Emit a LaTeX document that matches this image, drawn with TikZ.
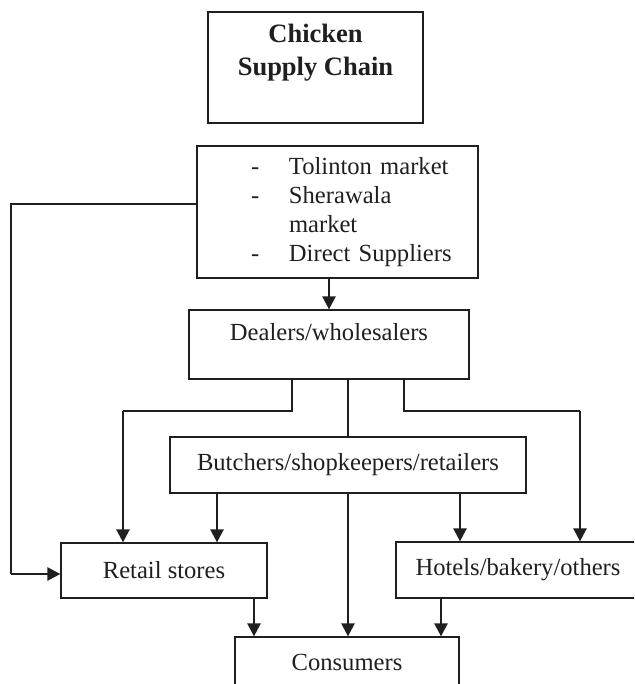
\documentclass[tikz,border=0pt]{standalone}
\usepackage{fontspec}
\setmainfont{Liberation Serif}
\usepackage{tikz}
\usetikzlibrary{calc}
\usetikzlibrary{arrows.meta}
\definecolor{ink}{gray}{0.12}

\begin{document}
\begin{tikzpicture}[x=1pt,y=-1pt,
        box/.style={draw=ink, line width=1.2pt, inner sep=0pt, text=ink},
        link/.style={draw=ink, line width=1.2pt},
        flow/.style={draw=ink, line width=2.3pt, -{Triangle[width=13pt,length=13pt]}},
        font=\fontsize{24.6}{29}\selectfont]
            \clip (0,0) rectangle (634,684);
            % boxes
            \node[box, minimum width=215pt, minimum height=111pt, align=center,
                  font=\bfseries\fontsize{26.5}{33}\selectfont, text depth=36pt] (title) at (315.5,67.5) {Chicken\\Supply Chain};
            \node[box, minimum width=281pt, minimum height=132pt, text width=281pt, align=left] (sources) at (337.5,212) {%
                \begin{tabular}{@{\hspace{54pt}}p{38pt}@{}l@{}}
                    - & Tolinton market\\
                    - & Sherawala\\
                      & market\\
                    - & Direct Suppliers
                \end{tabular}};
            \node[box, minimum width=280pt, minimum height=69pt, text depth=25pt] (dealers) at (329,344.5) {Dealers/wholesalers};
            \node[box, minimum width=356pt, minimum height=56pt] (butchers) at (348,465) {Butchers/shopkeepers/retailers};
            \node[box, minimum width=206pt, minimum height=55pt] (retail) at (164,570.5) {Retail stores};
            \node[box, minimum width=244pt, minimum height=56pt] (hotels) at (518,570) {Hotels/bakery/others};
            \node[box, minimum width=224pt, minimum height=50pt] (consumers) at (347,662) {Consumers};
            % bends and drop points
            \coordinate (lt) at (11,204);
            \coordinate (lb) at (11,574);
            \coordinate (dl) at (292,411);
            \coordinate (dr) at (404,411);
            \coordinate (rl) at (123,411);
            \coordinate (rr) at (580,411);
            \coordinate (b1) at (217,0);
            \coordinate (b3) at (460,0);
            \coordinate (c1) at (254,0);
            \coordinate (c3) at (441,0);
            % connectors
            \draw[flow] (sources.south -| dealers.north) -- (dealers.north);
            \draw[link] (sources.west |- lt) -- (lt) -- (lb);
            \draw[flow] (lb) -- (retail.west |- lb);
            \draw[link] (dealers.south -| dl) -- (dl) -- (rl);
            \draw[flow] (rl) -- (retail.north -| rl);
            \draw[link] (dealers.south -| dr) -- (dr) -- (rr);
            \draw[flow] (rr) -- (hotels.north -| rr);
            \draw[link] (dealers.south -| butchers.north) -- (butchers.north);
            \foreach \c/\t in {b1/retail,b3/hotels} {
                \draw[flow] (butchers.south -| \c) -- (\t.north -| \c);
            }
            \draw[flow] (butchers.south) -- (consumers.north -| butchers.south);
            \foreach \s/\c in {retail/c1,hotels/c3} {
                \draw[flow] (\s.south -| \c) -- (consumers.north -| \c);
            }
        \end{tikzpicture}
\end{document}
